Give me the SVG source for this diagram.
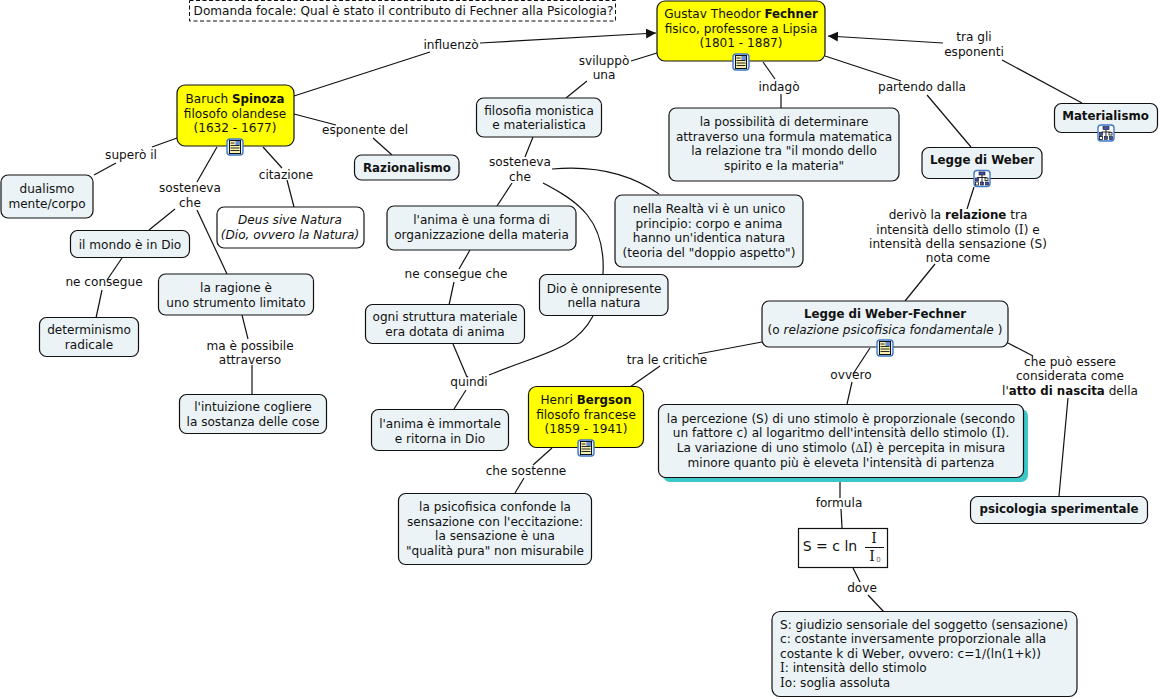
<svg xmlns="http://www.w3.org/2000/svg" width="1160" height="699" viewBox="0 0 1160 699">
<style>
text{font-family:"DejaVu Sans",Verdana,sans-serif;font-size:12.1px;fill:#111;text-anchor:middle}
.b{font-weight:bold;font-size:11.8px}
.i{font-style:italic}
.s{font-family:"Liberation Serif",serif}
.v{font-family:"DejaVu Serif",serif}
.l{text-anchor:start}
rect.n{fill:#ebf3f6;stroke:#111;stroke-width:1.2}
rect.y{fill:#ffff00;stroke:#111;stroke-width:1.2}
rect.w{fill:#fff;stroke:#111;stroke-width:1.2}
.c path{fill:none;stroke:#111;stroke-width:1.2}
</style>
<defs>
<g id="ic-doc"><rect x="-8" y="-8" width="16" height="16" rx="3" fill="#e4eefc" stroke="#3f78c8" stroke-width="1.4"/><rect x="-5.500" y="-6.500" width="11" height="13" fill="#f6f0b0" stroke="#111" stroke-width="1"/><path d="M-4.500-1.500h9M-4.500 1h9M-4.500 3.500h9M-4.500-4h4" stroke="#111" stroke-width="0.9"/><rect x="0.500" y="-6" width="4.500" height="4" fill="#6c8cd0"/></g>
<g id="ic-map"><rect x="-8" y="-8" width="16" height="16" rx="3" fill="#fff" stroke="#3f78c8" stroke-width="1.4"/><path d="M0-3.500v7M-4.500-1v3M4.500-1v2.500M-4.500-1h9" stroke="#111" stroke-width="0.9" fill="none"/><rect x="-3" y="-6.500" width="6" height="3" fill="#4050b0" stroke="#111" stroke-width="0.6"/><rect x="-6.500" y="-0.500" width="3" height="3" fill="#4050b0" stroke="#111" stroke-width="0.6"/><rect x="3" y="-0.500" width="3" height="2.500" fill="#fff" stroke="#111" stroke-width="0.8"/><rect x="-6.500" y="3.500" width="3" height="3" fill="#fff" stroke="#111" stroke-width="0.8"/><rect x="-1.500" y="3.500" width="3" height="3" fill="#4050b0" stroke="#111" stroke-width="0.6"/><rect x="3.500" y="3.500" width="3" height="3" fill="#4050b0" stroke="#111" stroke-width="0.6"/></g>
<marker id="arrow" markerUnits="userSpaceOnUse" markerWidth="12" markerHeight="12" refX="10" refY="6" orient="auto"><path d="M0 1L10 6L0 11z" fill="#111"/></marker>
</defs>
<g id="connectors" class="c">
<path d="M294 96L430 52"/>
<path d="M480 43L656 33" marker-end="url(#arrow)"/>
<path d="M294 114L336 125"/><path d="M373 138L392 155"/>
<path d="M263 147L282 168"/><path d="M287 180L294 207"/>
<path d="M177 138L152 147"/>
<path d="M116 163L94 175"/>
<path d="M217 147L197 182"/><path d="M175 209L149 230"/>
<path d="M197 210L227 274"/>
<path d="M122 258L107 280"/><path d="M102 290L96 318"/>
<path d="M242 315L248 339"/><path d="M252 365L252 394"/>
<path d="M657 53L631 61"/><path d="M587 81L566 98"/>
<path d="M533 137L525 157"/>
<path d="M512 183L497 206"/>
<path d="M552 169C585 166 625 170 659 194"/>
<path d="M543 183C578 201 606 220 603 274"/>
<path d="M593 316C575 350 545 352 489 375"/>
<path d="M470 250L459 269"/>
<path d="M454 282L449 305"/>
<path d="M453 344L467 377"/>
<path d="M466 390L454 409"/>
<path d="M763 62L775 79"/><path d="M781 94L781 108"/>
<path d="M825 56L901 81"/>
<path d="M927 95L971 147"/>
<path d="M974 187L967 209"/>
<path d="M935 264L905 301"/>
<path d="M1002 60L1082 103"/>
<path d="M943 43L828 36" marker-end="url(#arrow)"/>
<path d="M762 342L698 354"/>
<path d="M660 366L630 387"/>
<path d="M870 348L853 374"/><path d="M852 382L847 404"/>
<path d="M1008 343L1033 356"/>
<path d="M1068 398L1059 496"/>
<path d="M840 478L840 498"/><path d="M841 509L842 528"/>
<path d="M853 568L860 582"/><path d="M868 595L884 612"/>
<path d="M552 448L533 465"/>
<path d="M524 478L515 493"/>
</g>
<g id="focus"><rect x="189.500" y="0.500" width="426" height="20.500" fill="#fff" stroke="#111" stroke-dasharray="4 2.500"/><text x="403.500" y="15">Domanda focale: Qual è stato il contributo di Fechner alla Psicologia?</text></g>
<g id="fechner"><rect class="y" x="657" y="1" width="168" height="60" rx="8"/><text x="741" y="18">Gustav Theodor <tspan class="b">Fechner</tspan></text><text x="741" y="33">fisico, professore a Lipsia</text><text x="741" y="47">(1801 - 1887)</text><use href="#ic-doc" x="741" y="62"/></g>
<g id="spinoza"><rect class="y" x="177" y="85" width="117" height="61" rx="8"/><text x="235" y="103">Baruch <tspan class="b">Spinoza</tspan></text><text x="235" y="118">filosofo olandese</text><text x="235" y="132">(1632 - 1677)</text><use href="#ic-doc" x="235" y="147"/></g>
<g id="razionalismo"><rect class="n" x="354.500" y="155" width="104.500" height="25" rx="7"/><text class="b" x="407" y="172">Razionalismo</text></g>
<g id="materialismo"><rect class="n" x="1054.500" y="103.500" width="103" height="29" rx="7"/><text class="b" x="1105.500" y="120">Materialismo</text><use href="#ic-map" x="1106" y="133"/></g>
<g id="weber"><rect class="n" x="922" y="147.500" width="120" height="31" rx="7"/><text class="b" x="982" y="164">Legge di Weber</text><use href="#ic-map" x="982" y="178.500"/></g>
<g id="monistica"><rect class="n" x="476.500" y="98" width="125" height="39" rx="7"/><text x="539" y="115">filosofia monistica</text><text x="539" y="129">e materialistica</text></g>
<g id="possibilita"><rect class="n" x="669" y="108" width="230" height="73" rx="7"/><text x="784" y="126">la possibilità di determinare</text><text x="784" y="141">attraverso una formula matematica</text><text x="784" y="155">la relazione tra "il mondo dello</text><text x="784" y="170">spirito e la materia"</text></g>
<g id="dualismo"><rect class="n" x="1" y="175" width="92" height="43" rx="7"/><text x="47" y="193">dualismo</text><text x="47" y="208">mente/corpo</text></g>
<g id="deus"><rect class="w" x="217" y="207" width="147" height="41" rx="7"/><text class="i" x="290" y="224">Deus sive Natura</text><text class="i" x="290" y="239">(Dio, ovvero la Natura)</text></g>
<g id="mondo"><rect class="n" x="70.500" y="230.500" width="119" height="27" rx="7"/><text x="130" y="249">il mondo è in Dio</text></g>
<g id="ragione"><rect class="n" x="158.500" y="274" width="155" height="41" rx="7"/><text x="236" y="292">la ragione è</text><text x="236" y="307">uno strumento limitato</text></g>
<g id="determinismo"><rect class="n" x="39.500" y="317.500" width="99" height="39" rx="7"/><text x="89" y="334">determinismo</text><text x="89" y="349">radicale</text></g>
<g id="intuizione"><rect class="n" x="179.500" y="394.500" width="147" height="39" rx="7"/><text x="253" y="411">l'intuizione cogliere</text><text x="253" y="426">la sostanza delle cose</text></g>
<g id="anima-forma"><rect class="n" x="387" y="206" width="189" height="44" rx="7"/><text x="481.500" y="224">l'anima è una forma di</text><text x="481.500" y="239">organizzazione della materia</text></g>
<g id="realta"><rect class="n" x="615" y="195" width="188" height="72" rx="7"/><text x="709" y="213">nella Realtà vi è un unico</text><text x="709" y="228">principio: corpo e anima</text><text x="709" y="242">hanno un'identica natura</text><text x="709" y="257">(teoria del "doppio aspetto")</text></g>
<g id="struttura"><rect class="n" x="365.500" y="304.500" width="159" height="39" rx="7"/><text x="445" y="321">ogni struttura materiale</text><text x="445" y="336">era dotata di anima</text></g>
<g id="dio"><rect class="n" x="539.500" y="274.500" width="128.500" height="41" rx="7"/><text x="604" y="293">Dio è onnipresente</text><text x="604" y="307">nella natura</text></g>
<g id="immortale"><rect class="n" x="371.500" y="409.500" width="137" height="41" rx="7"/><text x="440" y="428">l'anima è immortale</text><text x="440" y="443">e ritorna in Dio</text></g>
<g id="bergson"><rect class="y" x="528.500" y="386.500" width="115" height="61" rx="8"/><text x="586" y="404">Henri <tspan class="b">Bergson</tspan></text><text x="586" y="419">filosofo francese</text><text x="586" y="433">(1859 - 1941)</text><use href="#ic-doc" x="586" y="448"/></g>
<g id="psicofisica"><rect class="n" x="398.500" y="493.500" width="193" height="71" rx="7"/><text x="495" y="511">la psicofisica confonde la</text><text x="495" y="526">sensazione con l'eccitazione:</text><text x="495" y="540">la sensazione è una</text><text x="495" y="555">"qualità pura" non misurabile</text></g>
<g id="weber-fechner"><rect class="n" x="762" y="301" width="246" height="46" rx="7"/><text class="b" x="885" y="318">Legge di Weber-Fechner</text><text x="885" y="334">(o <tspan class="i">relazione psicofisica fondamentale</tspan> )</text><use href="#ic-doc" x="885" y="348"/></g>
<g id="percezione"><rect x="663" y="409" width="365" height="73" rx="7" fill="#3cc8c8"/><rect class="n" x="658.500" y="404.500" width="365" height="73" rx="7"/><text x="841" y="423">la percezione (S) di uno stimolo è proporzionale (secondo</text><text x="841" y="437">un fattore c) al logaritmo dell'intensità dello stimolo (<tspan class="v">I</tspan>).</text><text x="841" y="452">La variazione di uno stimolo (<tspan class="s">Δ</tspan><tspan class="v">I</tspan>) è percepita in misura</text><text x="841" y="467">minore quanto più è eleveta l'intensità di partenza</text></g>
<g id="sperimentale"><rect class="n" x="970.500" y="496.500" width="177" height="27" rx="7"/><text class="b" x="1059" y="513">psicologia sperimentale</text></g>
<g id="formula"><rect class="w" x="798.500" y="528.500" width="89" height="39"/><text x="830" y="551" style="font-size:14px">S = c ln</text><text class="v" x="874" y="543" style="font-size:14px">I</text><path d="M865 547.500H884" stroke="#111" fill="none"/><text class="v" x="872" y="561" style="font-size:14px">I</text><text x="878.500" y="562" style="font-size:7px;fill:#666">0</text></g>
<g id="legenda"><rect class="n" x="772" y="611.500" width="305" height="85" rx="8"/><text class="l" x="780" y="628.500">S: giudizio sensoriale del soggetto (sensazione)</text><text class="l" x="780" y="643">c: costante inversamente proporzionale alla</text><text class="l" x="780" y="657.500">costante k di Weber, ovvero: c=1/(ln(1+k))</text><text class="l" x="780" y="672"><tspan class="v">I</tspan>: intensità dello stimolo</text><text class="l" x="780" y="686.500"><tspan class="v">I</tspan>o: soglia assoluta</text></g>
<g id="labels">
<text x="451" y="49">influenzò</text>
<text x="604" y="65">sviluppò</text><text x="604" y="79">una</text>
<text x="779" y="91">indagò</text>
<text x="922" y="91">partendo dalla</text>
<text x="974" y="41">tra gli</text><text x="974" y="56">esponenti</text>
<text x="365" y="134">esponente del</text>
<text x="286" y="179">citazione</text>
<text x="131" y="159">superò il</text>
<text x="190" y="192">sosteneva</text><text x="190" y="207">che</text>
<text x="104" y="286">ne consegue</text>
<text x="250" y="350">ma è possibile</text><text x="250" y="364">attraverso</text>
<text x="520" y="166">sosteneva</text><text x="520" y="181">che</text>
<text x="456" y="278">ne consegue che</text>
<text x="469" y="386">quindi</text>
<text x="667" y="364">tra le critiche</text>
<text x="526" y="475">che sostenne</text>
<text x="851" y="379">ovvero</text>
<text x="839" y="507">formula</text>
<text x="862" y="592">dove</text>
<text x="958" y="219">derivò la <tspan class="b">relazione</tspan> tra</text>
<text x="958" y="234">intensità dello stimolo (<tspan class="v">I</tspan>) e</text>
<text x="958" y="248">intensità della sensazione (S)</text>
<text x="958" y="262">nota come</text>
<text x="1070" y="366">che può essere</text>
<text x="1070" y="380">considerata come</text>
<text x="1070" y="395">l'<tspan class="b">atto di nascita</tspan> della</text>
</g>
</svg>
